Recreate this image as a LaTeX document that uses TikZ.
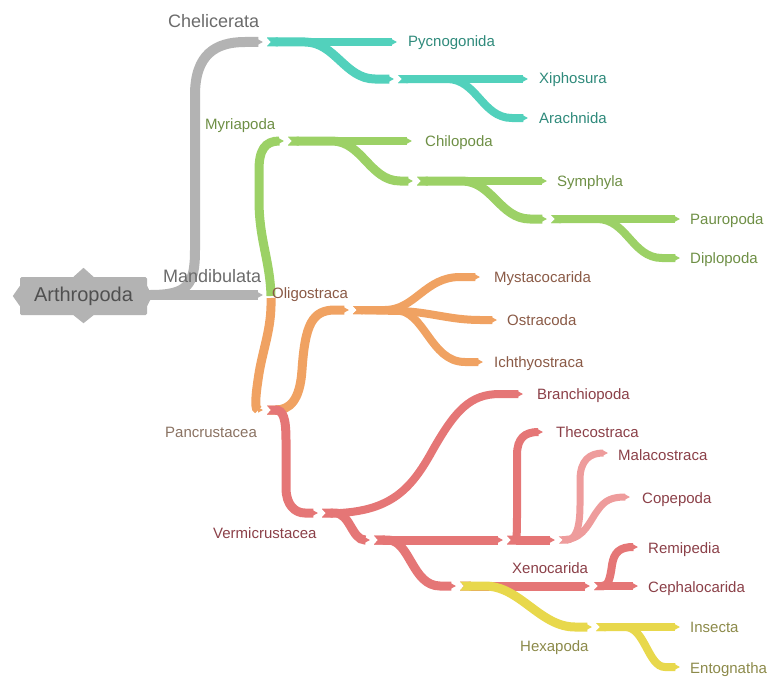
\documentclass[tikz,border=0pt]{standalone}
\usepackage{fontspec}
\setmainfont{Liberation Sans}
\usetikzlibrary{arrows.meta}
\definecolor{cgray}{HTML}{B3B3B3}
\definecolor{cteal}{HTML}{52D1BC}
\definecolor{cgreen}{HTML}{9CD166}
\definecolor{corange}{HTML}{F0A262}
\definecolor{cred}{HTML}{E57676}
\definecolor{cpink}{HTML}{EE9C9C}
\definecolor{cyellow}{HTML}{E8D84C}
\definecolor{tgray}{HTML}{6B6B6B}
\definecolor{troot}{HTML}{505050}
\definecolor{tteal}{HTML}{2F8A7B}
\definecolor{tgreen}{HTML}{6E8F45}
\definecolor{torange}{HTML}{8A5A46}
\definecolor{tpan}{HTML}{8A7262}
\definecolor{tred}{HTML}{8B4048}
\definecolor{tyellow}{HTML}{8C8A4A}
\begin{document}
\begin{tikzpicture}[x=1pt,y=-1pt,
  tip/.style={-{Triangle[width'=0pt 1,length=5pt]}},
  br/.style={line width=9pt,{Triangle Cap[reversed,length=4pt]}-{Triangle[width'=0pt 1,length=5pt]}},
  lf/.style={br,line width=8pt},
  lab/.style={anchor=base west,inner sep=0pt,font=\fontsize{15}{18}\selectfont},
  big/.style={anchor=base west,inner sep=0pt,font=\fontsize{18}{21}\selectfont,text=tgray}]
\useasboundingbox (0,0) rectangle (768,677);
% gray
\coordinate (r) at (140,295);
\coordinate (m) at (263,295);
\coordinate (c) at (263,42);
\draw[line width=10pt,cgray,tip] (r) -- (m);
\draw[line width=10pt,cgray,tip] (r) -- (150,295) .. controls (188,295) and (195,285) .. (195,250) -- (195,95) .. controls (195,55) and (215,42) .. (245,42) -- (c);
% teal
\coordinate (c0) at (267,42);
\coordinate (x1) at (394,79);
\coordinate (x1s) at (398,79);
\draw[lf,cteal] (c0) -- (397,42);
\draw[br,cteal] (c0) -- (305,42) .. controls (335,42) and (345,79) .. (375,79) -- (x1);
\draw[lf,cteal] (x1s) -- (528,79);
\draw[lf,cteal] (x1s) -- (447,79) .. controls (477,79) and (482,118) .. (512,118) -- (528,118);
% green
\coordinate (g0) at (271,296);
\coordinate (g1) at (284,141);
\coordinate (g1s) at (288,141);
\coordinate (g2) at (413,181);
\coordinate (g2s) at (417,181);
\coordinate (g3) at (547,219);
\coordinate (g3s) at (551,219);
\draw[line width=9pt,cgreen,tip] (g0) .. controls (270,260) and (259,240) .. (259,200) -- (259,170) .. controls (259,150) and (265,141) .. (g1);
\draw[lf,cgreen] (g1s) -- (412,141);
\draw[br,cgreen] (g1s) -- (332,141) .. controls (362,141) and (370,181) .. (400,181) -- (g2);
\draw[lf,cgreen] (g2s) -- (547,181);
\draw[br,cgreen] (g2s) -- (462,181) .. controls (492,181) and (500,219) .. (530,219) -- (g3);
\draw[lf,cgreen] (g3s) -- (680,219);
\draw[lf,cgreen] (g3s) -- (597,219) .. controls (627,219) and (632,258) .. (662,258) -- (680,258);
% orange
\coordinate (o0) at (271,298);
\coordinate (p) at (263,410);
\coordinate (ps) at (267,410);
\coordinate (o1) at (349,310);
\coordinate (o1s) at (353,310);
\draw[line width=9pt,corange,tip] (o0) .. controls (272,330) and (262,350) .. (258,380) .. controls (255,400) and (255,410) .. (p);
\draw[br,corange] (ps) .. controls (290,410) and (300,400) .. (302,370) .. controls (305,325) and (312,310) .. (335,310) -- (o1);
\draw[lf,corange] (o1s) -- (385,310) .. controls (415,310) and (425,277) .. (460,277) -- (480,277);
\draw[lf,corange] (o1s) -- (400,311) .. controls (430,312) and (450,320) .. (480,320) -- (497,320);
\draw[lf,corange] (o1s) -- (395,310) .. controls (425,310) and (430,362) .. (465,362) -- (483,362);
% red
\coordinate (v) at (318,513);
\coordinate (vs) at (322,513);
\coordinate (v2) at (370,540);
\coordinate (v2s) at (374,540);
\coordinate (a) at (503,540);
\coordinate (as) at (507,540);
\coordinate (b) at (555,540);
\coordinate (bs) at (559,540);
\coordinate (xn) at (456,586);
\coordinate (xns) at (460,586);
\coordinate (xe) at (590,586);
\coordinate (xes) at (594,586);
\coordinate (hx) at (592,627);
\coordinate (hxs) at (596,627);
\draw[br,cred] (ps) .. controls (283,410) and (286,418) .. (286,440) -- (286,488) .. controls (286,505) and (295,513) .. (305,513) -- (v);
\draw[lf,cred] (vs) -- (340,513) .. controls (390,510) and (410,490) .. (430,455) .. controls (455,410) and (470,394) .. (500,394) -- (523,394);
\draw[br,cred] (vs) -- (335,513) .. controls (350,513) and (352,540) .. (365,540) -- (v2);
\draw[br,cred] (v2s) -- (a);
\draw[br,cred] (v2s) -- (388,540) .. controls (410,540) and (412,586) .. (440,586) -- (xn);
\draw[lf,cred] (as) .. controls (517,540) and (517,530) .. (517,510) -- (517,455) .. controls (517,438) and (525,432) .. (543,432);
\draw[br,cred] (as) -- (b);
\draw[line width=7pt,cpink,{Triangle Cap[reversed,length=4pt]}-{Triangle[width'=0pt 1,length=5pt]}] (bs) .. controls (575,540) and (580,530) .. (580,505) -- (580,480) .. controls (580,460) and (590,453) .. (608,453);
\draw[line width=7pt,cpink,{Triangle Cap[reversed,length=4pt]}-{Triangle[width'=0pt 1,length=5pt]}] (bs) .. controls (585,538) and (590,520) .. (598,510) .. controls (605,500) and (612,497) .. (630,497);
\draw[br,cred] (xns) -- (xe);
\draw[lf,cred] (xes) -- (638,586);
\draw[lf,cred] (xes) .. controls (608,586) and (610,580) .. (612,565) .. controls (614,552) and (620,547) .. (638,547);
% yellow
\draw[br,cyellow] (xns) -- (485,586) .. controls (520,586) and (540,627) .. (575,627) -- (hx);
\draw[lf,cyellow] (hxs) -- (680,627);
\draw[lf,cyellow] (hxs) -- (625,627) .. controls (645,627) and (648,667) .. (665,667) -- (680,667);
% root
\node[fill=cgray,rounded corners=1.5pt,minimum width=127pt,minimum height=38pt,inner sep=0pt,
  text=troot,font=\fontsize{20}{24}\selectfont] (root) at (83.5,296) {Arthropoda};
\fill[cgray] ([xshift=-10pt]root.north) -- ++(10,-9) -- ++(10,9) -- cycle;
\fill[cgray] ([xshift=-10pt]root.south) -- ++(10,8) -- ++(10,-8) -- cycle;
\fill[cgray] ([yshift=10pt]root.west) -- ++(-7,10) -- ++(7,10) -- cycle;
\fill[cgray] ([yshift=10pt]root.east) -- ++(5,10) -- ++(-5,10) -- cycle;
% labels
\node[big] (lche) at (168,28) {Chelicerata};
\node[big] (lman) at (163,282) {Mandibulata};
\node[lab,text=tteal] (lpyc) at (408,47) {Pycnogonida};
\node[lab,text=tteal] (lxip) at (539,84) {Xiphosura};
\node[lab,text=tteal] (lara) at (539,123) {Arachnida};
\node[lab,text=tgreen] (lmyr) at (205,129) {Myriapoda};
\node[lab,text=tgreen] (lchi) at (425,146) {Chilopoda};
\node[lab,text=tgreen] (lsym) at (557,186) {Symphyla};
\node[lab,text=tgreen] (lpau) at (690,224) {Pauropoda};
\node[lab,text=tgreen] (ldip) at (690,263) {Diplopoda};
\node[lab,text=torange] (loli) at (272,298) {Oligostraca};
\node[lab,text=torange] (lmys) at (494,282) {Mystacocarida};
\node[lab,text=torange] (lost) at (507,325) {Ostracoda};
\node[lab,text=torange] (lich) at (494,367) {Ichthyostraca};
\node[lab,text=tpan] (lpan) at (165,437) {Pancrustacea};
\node[lab,text=tred] (lbra) at (537,399) {Branchiopoda};
\node[lab,text=tred] (lthe) at (556,437) {Thecostraca};
\node[lab,text=tred] (lmal) at (618,460) {Malacostraca};
\node[lab,text=tred] (lcop) at (642,503) {Copepoda};
\node[lab,text=tred] (lver) at (213,538) {Vermicrustacea};
\node[lab,text=tred] (lrem) at (648,553) {Remipedia};
\node[lab,text=tred] (lxen) at (512,573) {Xenocarida};
\node[lab,text=tred] (lcep) at (648,592) {Cephalocarida};
\node[lab,text=tyellow] (lhex) at (520,651) {Hexapoda};
\node[lab,text=tyellow] (lins) at (690,632) {Insecta};
\node[lab,text=tyellow] (lent) at (690,673) {Entognatha};
\end{tikzpicture}
\end{document}
